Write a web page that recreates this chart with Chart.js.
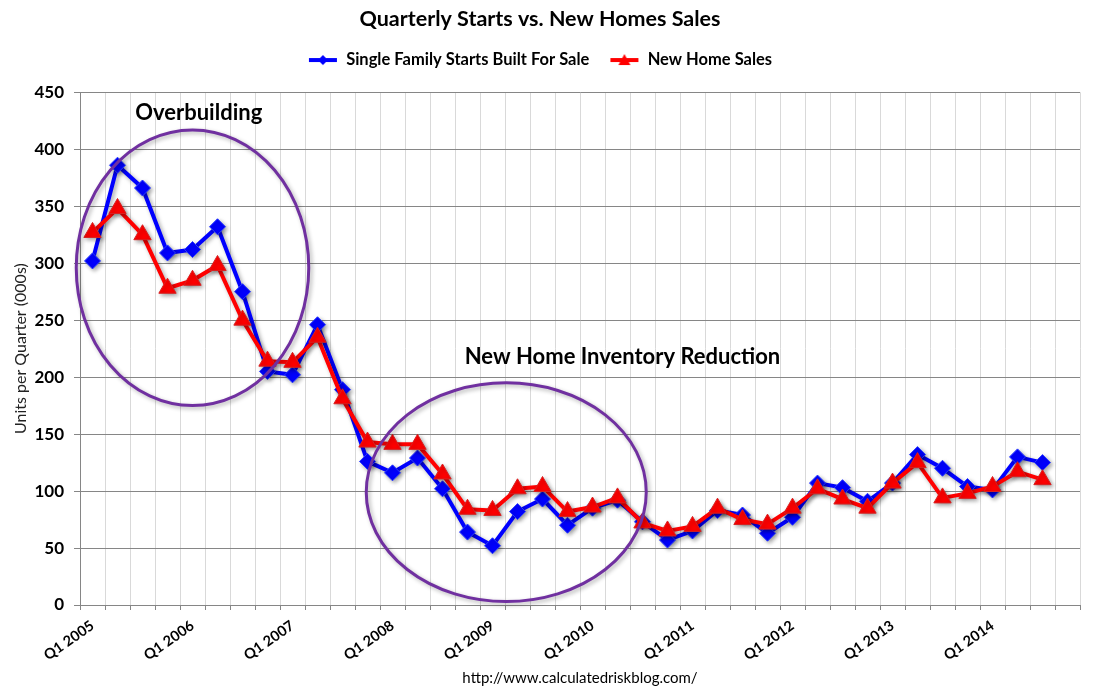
<!DOCTYPE html>
<html>
<head>
<meta charset="utf-8">
<script src="https://cdn.jsdelivr.net/npm/chart.js@4/dist/chart.umd.min.js"></script>
<style>
  html, body { margin: 0; padding: 0; background: #fff; }
  #wrap { width: 1095px; height: 700px; }
</style>
</head>
<body>
<div id="wrap"><canvas id="chart"></canvas></div>
<script>
/* Quarterly starts vs. new home sales, Q1 2005 - Q3 2014 (000s) */

var years = [2005, 2006, 2007, 2008, 2009, 2010, 2011, 2012, 2013, 2014];
var quarters = [];
years.forEach(function (y) {
  ['Q1', 'Q2', 'Q3', 'Q4'].forEach(function (q) { quarters.push(q + ' ' + y); });
});

var startsForSale = [
  302, 386, 366, 309, 312, 332, 275, 205, 202, 246,
  189, 126, 116, 129, 102,  64,  52,  82,  93,  70,
   85,  92,  73,  57,  65,  83,  79,  63,  77, 107,
  103,  91, 107, 132, 120, 104, 101, 130, 125
];
var newHomeSales = [
  327, 348, 325, 278, 285, 298, 250, 214, 213, 235,
  181, 143, 141, 141, 115,  84,  83, 102, 104,  82,
   86,  94,  72,  65,  69,  85,  75,  71,  85, 102,
   93,  85, 107, 125,  94,  98, 104, 117, 110
];
var yTicks = [0, 50, 100, 150, 200, 250, 300, 350, 400, 450];

/* annotations, in data units (category index / value) */
var ellipses = [
  { cx: 4.0,  cy: 296, rx: 4.65, ry: 121 },
  { cx: 16.55, cy: 99, rx: 5.6,  ry: 96 }
];
var notes = [
  { text: 'Overbuilding', x: 4.25, y: 432 },
  { text: 'New Home Inventory Reduction', x: 21.2, y: 218 }
];

var BLUE = '#0000ff', RED = '#ff0000', PURPLE = '#7030a0';
var FONT = 'Lato, "Open Sans", sans-serif';

function legendIcon(color, style) {
  var c = document.createElement('canvas');
  c.width = 30; c.height = 14;
  var g = c.getContext('2d');
  g.strokeStyle = color; g.fillStyle = color; g.lineWidth = 4;
  g.beginPath(); g.moveTo(1, 7); g.lineTo(29, 7); g.stroke();
  g.beginPath();
  if (style === 'diamond') {
    g.moveTo(15, 2); g.lineTo(20, 7); g.lineTo(15, 12); g.lineTo(10, 7);
  } else {
    g.moveTo(15, 1); g.lineTo(21, 12); g.lineTo(9, 12);
  }
  g.closePath(); g.fill();
  return c;
}
var iconBlue = legendIcon(BLUE, 'diamond');
var iconRed = legendIcon(RED, 'triangle');

var shadowPlugin = {
  id: 'shadow',
  beforeDatasetsDraw: function (chart) {
    var ctx = chart.ctx;
    ctx.save();
    ctx.shadowColor = 'rgba(0,0,0,0.35)';
    ctx.shadowBlur = 4;
    ctx.shadowOffsetX = 2;
    ctx.shadowOffsetY = 2;
  },
  afterDatasetsDraw: function (chart) { chart.ctx.restore(); }
};

var notesPlugin = {
  id: 'notes',
  afterDatasetsDraw: function (chart) {
    var ctx = chart.ctx, x = chart.scales.x, y = chart.scales.y;
    ellipses.forEach(function (e) {
      var px = x.getPixelForValue(e.cx), py = y.getPixelForValue(e.cy);
      var rx = Math.abs(x.getPixelForValue(e.cx + e.rx) - px);
      var ry = Math.abs(y.getPixelForValue(e.cy + e.ry) - py);
      ctx.save();
      ctx.shadowColor = 'rgba(0,0,0,0.3)';
      ctx.shadowBlur = 4; ctx.shadowOffsetX = 2; ctx.shadowOffsetY = 2;
      ctx.strokeStyle = PURPLE; ctx.lineWidth = 3;
      ctx.beginPath(); ctx.ellipse(px, py, rx, ry, 0, 0, Math.PI * 2); ctx.stroke();
      ctx.restore();
    });
    ctx.save();
    ctx.fillStyle = '#000';
    ctx.font = 'bold 22px ' + FONT;
    ctx.textAlign = 'center'; ctx.textBaseline = 'middle';
    notes.forEach(function (n) {
      ctx.fillText(n.text, x.getPixelForValue(n.x), y.getPixelForValue(n.y));
    });
    ctx.restore();
  }
};

new Chart(document.getElementById('chart'), {
  type: 'line',
  data: {
    labels: quarters,
    datasets: [
      {
        label: 'Single Family Starts Built For Sale', data: startsForSale,
        borderColor: BLUE, backgroundColor: BLUE, borderWidth: 4,
        pointStyle: 'rectRot', pointRadius: 8, pointBorderColor: '#2a3cff', pointBorderWidth: 1,
        tension: 0, order: 2
      },
      {
        label: 'New Home Sales', data: newHomeSales,
        borderColor: RED, backgroundColor: RED, borderWidth: 4,
        pointStyle: 'triangle', pointRadius: 10, pointBorderColor: '#d82020', pointBorderWidth: 1,
        tension: 0, order: 1
      }
    ]
  },
  options: {
    responsive: true, maintainAspectRatio: false, animation: false,
    layout: { padding: { right: 15 } },
    plugins: {
      title: {
        display: true, text: 'Quarterly Starts vs. New Homes Sales', color: '#000',
        font: { family: FONT, size: 21.5, weight: 'bold' }, padding: { top: 6, bottom: 0 }
      },
      subtitle: { display: true, text: '', weight: 500, font: { size: 10, lineHeight: 1 }, padding: { top: 4, bottom: 0 } },
      legend: {
        labels: {
          usePointStyle: true, pointStyleWidth: 30, padding: 20, color: '#000',
          font: { family: FONT, size: 16.5, weight: 'bold' },
          generateLabels: function () {
            return [
              { text: 'Single Family Starts Built For Sale', pointStyle: iconBlue, fillStyle: BLUE, strokeStyle: BLUE, lineWidth: 0, datasetIndex: 0, hidden: false, fontColor: '#000' },
              { text: 'New Home Sales', pointStyle: iconRed, fillStyle: RED, strokeStyle: RED, lineWidth: 0, datasetIndex: 1, hidden: false, fontColor: '#000' }
            ];
          }
        }
      },
      tooltip: { enabled: false }
    },
    scales: {
      x: {
        offset: true,
        afterFit: function (s) { s.height = 95; },
        grid: { color: '#d9d9d9', tickColor: '#868686', tickLength: 5, offset: true },
        border: { color: '#868686' },
        ticks: {
          autoSkip: false, minRotation: 35, maxRotation: 35, color: '#000', padding: 7,
          font: { family: FONT, size: 14.5, weight: 'bold' },
          callback: function (v, i) { return i % 4 === 0 ? quarters[i] : ''; }
        },
        title: {
          display: true, text: 'http://www.calculatedriskblog.com/', color: '#000',
          font: { family: FONT, size: 15 }, padding: { top: 0, bottom: 13 }
        }
      },
      y: {
        min: 0, max: 450,
        afterFit: function (s) { s.width = 80; },
        afterBuildTicks: function (s) { s.ticks = yTicks.map(function (v) { return { value: v }; }); },
        grid: { color: '#868686', tickColor: '#868686', tickLength: 6 },
        border: { color: '#868686' },
        ticks: { color: '#000', padding: 10, font: { family: FONT, size: 17, weight: 'bold' } },
        title: {
          display: true, text: 'Units per Quarter (000s)', color: '#222',
          font: { family: FONT, size: 16 }, padding: { top: 11, bottom: 0 }
        }
      }
    }
  },
  plugins: [shadowPlugin, notesPlugin]
});
</script>
</body>
</html>
